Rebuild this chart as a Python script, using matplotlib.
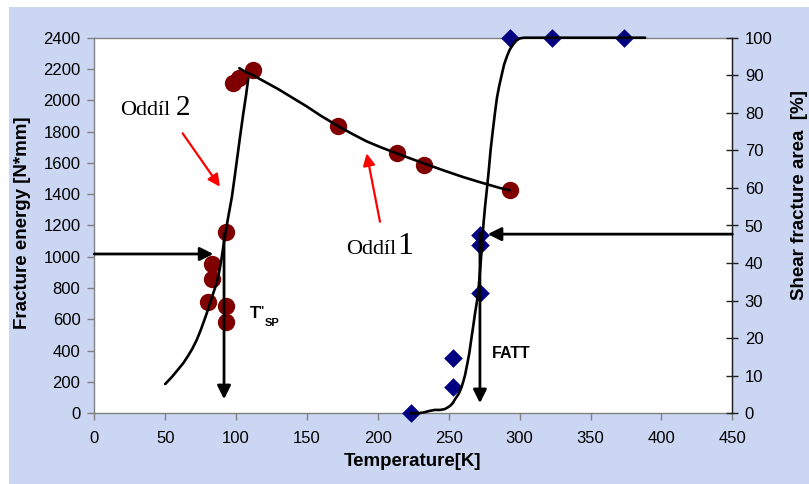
import matplotlib
matplotlib.use("Agg")
import matplotlib.pyplot as plt
from matplotlib.patches import Rectangle

plt.rcParams['font.family'] = ['Liberation Sans', 'DejaVu Sans']

# ---- data ----
# fracture energy measurements (red circles)
energy_T = [98.0, 102.3, 112.1, 172.0, 213.3, 232.5, 293.0, 92.9, 82.8, 82.8, 80.4, 92.9, 92.9]
energy_E = [2112, 2142, 2193, 1838, 1661, 1586, 1426, 1160, 954, 858, 713, 686, 581]

# fitted energy curve, lower shelf / transition part
rise_T = [50, 55, 60, 62.7, 66, 69, 72.2, 75, 77, 79.3, 82, 84, 86.3, 88, 89.5, 91,
          92.5, 94.5, 97, 99, 101, 103, 105, 107, 108.6]
rise_E = [187, 235, 290, 320, 365, 410, 468, 530, 580, 639, 715, 770, 831, 900, 975, 1065,
          1150, 1256, 1380, 1510, 1645, 1780, 1910, 2030, 2140]

# fitted energy curve, upper part
fall_T = [102.3, 106, 112, 120, 130, 140, 150, 160, 172, 182, 192, 202, 213, 224, 234,
          247, 260, 273, 286, 293]
fall_E = [2205, 2185, 2160, 2120, 2070, 2015, 1960, 1900, 1835, 1785, 1738, 1700, 1662,
          1625, 1592, 1550, 1510, 1474, 1440, 1425]

# shear fracture area measurements (blue diamonds)
shear_T = [223.3, 252.7, 252.7, 272.0, 272.0, 272.0, 293.0, 322.5, 373.5]
shear_P = [0, 7.0, 14.8, 32.0, 44.8, 47.5, 100, 100, 100]

# fitted shear curve
scurve_T = [223, 228, 232, 236, 240, 244, 247, 249, 251, 253, 254.5, 256.7, 258, 259.5,
            261.4, 263, 264.5, 266, 267.2, 268.5, 270, 271.2, 272.3, 273.3, 274.4, 275.6,
            277, 278.3, 279.5, 281, 282.6, 284, 285.5, 287.3, 289, 291, 293, 295, 297.5,
            300, 303, 388.5]
scurve_P = [0, 0, 0.2, 0.6, 0.9, 0.9, 1.1, 1.5, 2, 2.8, 3.8, 5, 6, 7.5,
            10, 13, 16, 20, 23, 26.5, 30, 34, 39, 44, 50, 55,
            60, 65, 70, 75, 80, 84, 87, 90, 92.8, 95, 96.8, 98, 99.2,
            99.8, 100, 100]

x_ticks = list(range(0, 451, 50))
e_ticks = list(range(0, 2401, 200))
p_ticks = list(range(0, 101, 10))

# ---- figure ----
W, H = 809, 484
fig = plt.figure(figsize=(W / 100, H / 100), dpi=100, facecolor='white')
fig.patches.append(Rectangle((9 / W, 0), 1 - 9 / W, 1 - 7 / H, transform=fig.transFigure,
                             facecolor='#CAD6F2', edgecolor='none', zorder=-10))

L, R, T, B = 94.3, 732.3, 37.7, 413.3
ax = fig.add_axes([L / W, 1 - B / H, (R - L) / W, (B - T) / H])
ax.set_facecolor('white')
ax2 = ax.twinx()

ax.set_xlim(0, 450)
ax.set_ylim(0, 2400)
ax2.set_ylim(0, 100)
ax.set_xticks(x_ticks)
ax.set_yticks(e_ticks)
ax2.set_yticks(p_ticks)

for s in ['left', 'bottom', 'top']:
    ax.spines[s].set_color('#808080')
    ax.spines[s].set_linewidth(1.0)
ax2.spines['right'].set_color('#202020')
ax2.spines['right'].set_linewidth(1.0)
for s in ['left', 'bottom', 'top']:
    ax2.spines[s].set_visible(False)

ax.tick_params(axis='both', direction='out', length=5, width=1, color='#808080',
               labelsize=12, pad=5)
ax.tick_params(axis='x', pad=8)
ax2.tick_params(axis='y', direction='inout', length=8, width=1, color='#202020',
                labelsize=12, pad=5)

# energy data
ax.scatter(energy_T, energy_E, s=12.5 ** 2, color='#800000', zorder=3, linewidths=0,
           clip_on=False)
ax.plot(rise_T, rise_E, color='black', lw=1.9, zorder=4, solid_capstyle='round',
        solid_joinstyle='round')
ax.plot(fall_T, fall_E, color='black', lw=1.9, zorder=4, solid_capstyle='round',
        solid_joinstyle='round')

# shear data
ax2.scatter(shear_T, shear_P, marker='D', s=9.5 ** 2, color='#000080', zorder=3, linewidths=0,
            clip_on=False)
ax2.plot(scurve_T, scurve_P, color='black', lw=1.9, zorder=4, solid_capstyle='round',
         solid_joinstyle='round', clip_on=False)

arr = dict(arrowstyle='-|>', lw=2.0, color='black', mutation_scale=20, shrinkA=0, shrinkB=0)
# arrows, energy axis
ax.annotate('', xy=(84, 1018), xytext=(0, 1018), arrowprops=arr, zorder=5)
ax.annotate('', xy=(91.5, 90), xytext=(91.5, 1150), arrowprops=arr, zorder=5)
# arrows, shear axis
ax2.annotate('', xy=(277.5, 47.7), xytext=(450, 47.7), arrowprops=arr, zorder=5)
ax2.annotate('', xy=(272, 2.7), xytext=(272, 48), arrowprops=arr, zorder=5)

red = dict(arrowstyle='-|>', lw=1.6, color='#FF0000', mutation_scale=18, shrinkA=0, shrinkB=0)
ax.annotate('', xy=(88.6, 1448), xytext=(62.3, 1789), arrowprops=red, zorder=5)
ax.annotate('', xy=(192.1, 1661), xytext=(201.5, 1224), arrowprops=red, zorder=5)

serif = ['Liberation Serif', 'DejaVu Serif']
ax.text(18.1, 1906, 'Oddíl', family=serif, fontsize=16, va='baseline', ha='left')
ax.text(57.5, 1906, '2', family=serif, fontsize=21, va='baseline', ha='left')
ax.text(177.5, 1018, 'Oddíl', family=serif, fontsize=16, va='baseline', ha='left')
ax.text(214.0, 1018, '1', family=serif, fontsize=23, va='baseline', ha='left')

ax.text(109.4, 607, 'T', fontsize=12, fontweight='bold', va='baseline', ha='left')
ax.text(115.8, 640, '"', fontsize=8, fontweight='bold', va='baseline', ha='left')
ax.text(120.2, 560, 'SP', fontsize=8, fontweight='bold', va='baseline', ha='left')
ax.text(280.3, 351, 'FATT', fontsize=11.5, fontweight='bold', va='baseline', ha='left')

fig.text(412.5 / W, 1 - 462 / H, 'Temperature[K]', fontsize=13.5, fontweight='bold',
         ha='center', va='center')
fig.text(23 / W, 1 - 222.5 / H, 'Fracture energy [N*mm]', fontsize=13.5, fontweight='bold',
         ha='center', va='center', rotation=90)
fig.text(799 / W, 1 - 195 / H, 'Shear fracture area  [%]', fontsize=13.5, fontweight='bold',
         ha='center', va='center', rotation=90)

fig.savefig('out.png', dpi=100, facecolor=fig.get_facecolor())
